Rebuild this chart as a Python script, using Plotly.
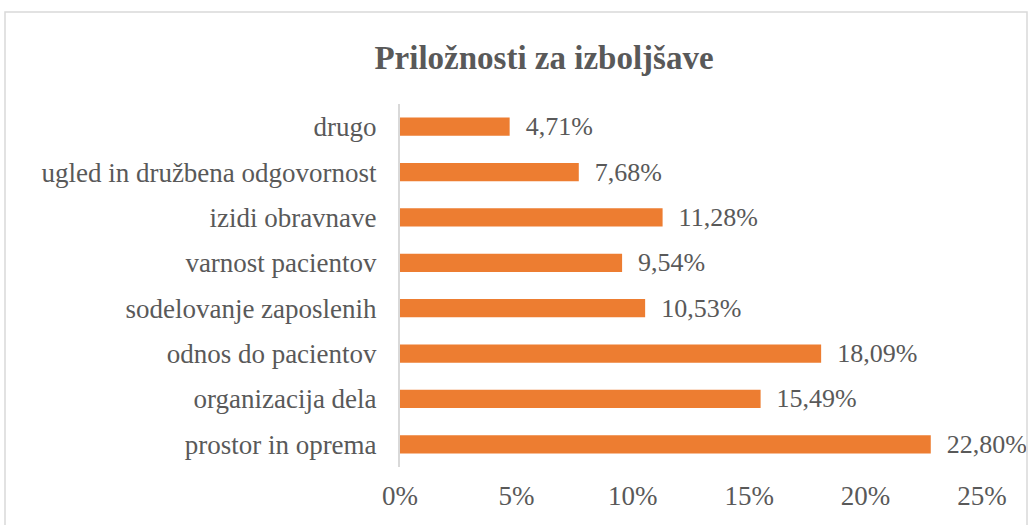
import plotly.graph_objects as go

categories = ["prostor in oprema", "organizacija dela", "odnos do pacientov",
              "sodelovanje zaposlenih", "varnost pacientov", "izidi obravnave",
              "ugled in družbena odgovornost", "drugo"]
values = [22.80, 15.49, 18.09, 10.53, 9.54, 11.28, 7.68, 4.71]
tick_vals = [0, 5, 10, 15, 20, 25]
tick_text = ["0%", "5%", "10%", "15%", "20%", "25%"]

labels = ["  " + f"{v:.2f}".replace(".", ",") + "%" for v in values]

W, H = 1030, 525
L, R, T, B = 400, 48, 104, 58
pw, ph = W - L - R, H - T - B

font_family = "Liberation Serif, Times New Roman, serif"
grey = "#595959"
fs = 27

fig = go.Figure(go.Bar(
    x=values, y=categories, orientation="h",
    marker=dict(color="#ED7D31", line=dict(width=0)),
    text=labels, textposition="outside", cliponaxis=False, constraintext="none",
    textfont=dict(family=font_family, size=26, color=grey),
))

fig.update_layout(
    width=W, height=H,
    margin=dict(l=L, r=R, t=T, b=B, autoexpand=False),
    paper_bgcolor="white", plot_bgcolor="white",
    bargap=0.6,
    showlegend=False,
    title=dict(text="<b>Priložnosti za izboljšave</b>", x=544 / W, xanchor="center",
               y=1 - 57 / H, yanchor="middle",
               font=dict(family=font_family, size=33, color=grey)),
    xaxis=dict(range=[0, 25], tickvals=tick_vals, ticktext=tick_text,
               showgrid=False, zeroline=False, showline=False, automargin=False,
               tickfont=dict(family=font_family, size=fs, color=grey),
               ticks="", ticklabelstandoff=10),
    yaxis=dict(showgrid=False, zeroline=False, showline=True, linecolor="#D9D9D9",
               linewidth=2, ticks="", ticklabelstandoff=16, automargin=False,
               tickfont=dict(family=font_family, size=fs, color=grey)),
    shapes=[dict(type="rect", xref="paper", yref="paper",
                 x0=(5 - L) / pw, x1=(1027 - L) / pw,
                 y0=-(H + 10 - (T + ph)) / ph, y1=1 + (T - 12) / ph,
                 line=dict(color="#D9D9D9", width=1.5), fillcolor="rgba(0,0,0,0)")],
)

fig.write_html("out.html", config={"displayModeBar": False},
               post_script="document.body.style.margin='0';")
